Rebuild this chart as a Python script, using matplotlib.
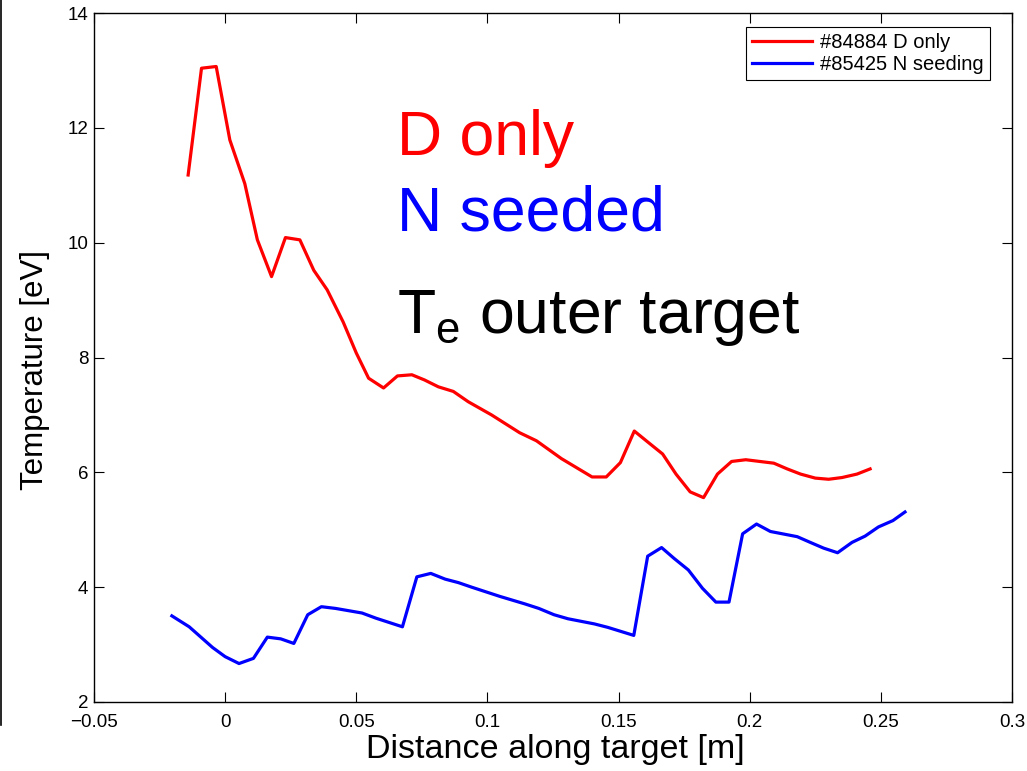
import matplotlib
matplotlib.use("Agg")
import matplotlib.pyplot as plt
from matplotlib.lines import Line2D

plt.rcParams['font.family'] = ['Liberation Sans', 'DejaVu Sans']
plt.rcParams['mathtext.fontset'] = 'custom'
plt.rcParams['mathtext.rm'] = 'Liberation Sans'

# Shot #84884, D only
x_d = [-0.0141, -0.0090, -0.0034, 0.0018, 0.0075, 0.0123, 0.0177, 0.0230, 0.0285,
       0.0338, 0.0389, 0.0450, 0.0500, 0.0547, 0.0604, 0.0657, 0.0712, 0.0760, 0.0813,
       0.0870, 0.0927, 0.1016, 0.1123, 0.1187, 0.1282, 0.1399, 0.1453, 0.1507, 0.1560,
       0.1611, 0.1668, 0.1719, 0.1773, 0.1824, 0.1877, 0.1931, 0.1985, 0.2092, 0.2143,
       0.2194, 0.2250, 0.2301, 0.2352, 0.2409, 0.2459]
te_d = [11.18, 13.04, 13.07, 11.79, 11.03, 10.05, 9.41, 10.09, 10.05,
        9.52, 9.18, 8.62, 8.08, 7.64, 7.47, 7.68, 7.70, 7.61, 7.49,
        7.41, 7.23, 7.00, 6.69, 6.55, 6.24, 5.92, 5.92, 6.17, 6.72,
        6.53, 6.32, 5.97, 5.66, 5.56, 5.97, 6.19, 6.22, 6.16, 6.06,
        5.97, 5.90, 5.88, 5.91, 5.97, 6.06]

# Shot #85425, N seeding
x_n = [-0.0203, -0.0137, -0.0048, 0.0000, 0.0053, 0.0108, 0.0161, 0.0212, 0.0262,
       0.0315, 0.0367, 0.0421, 0.0522, 0.0575, 0.0676, 0.0731, 0.0784, 0.0839, 0.0889,
       0.0940, 0.1047, 0.1142, 0.1196, 0.1254, 0.1307, 0.1408, 0.1459, 0.1558, 0.1611,
       0.1664, 0.1712, 0.1766, 0.1820, 0.1871, 0.1921, 0.1973, 0.2026, 0.2079, 0.2181,
       0.2231, 0.2282, 0.2335, 0.2390, 0.2440, 0.2491, 0.2546, 0.2592]
te_n = [3.50, 3.31, 2.95, 2.79, 2.67, 2.76, 3.13, 3.10, 3.02,
        3.52, 3.66, 3.63, 3.55, 3.46, 3.31, 4.18, 4.24, 4.14, 4.08,
        4.00, 3.84, 3.71, 3.63, 3.52, 3.45, 3.36, 3.30, 3.16, 4.54,
        4.69, 4.50, 4.30, 3.98, 3.74, 3.74, 4.93, 5.10, 4.97, 4.88,
        4.78, 4.68, 4.60, 4.78, 4.89, 5.05, 5.16, 5.31]

x_ticks = [-0.05, 0, 0.05, 0.1, 0.15, 0.2, 0.25, 0.3]
x_tick_labels = ['\u22120.05', '0', '0.05', '0.1', '0.15', '0.2', '0.25', '0.3']
y_ticks = [2, 4, 6, 8, 10, 12, 14]

fig = plt.figure(figsize=(10.27, 7.71), dpi=100)
ax = fig.add_axes([0.0915, 0.0895, 0.8939, 0.8935])

ax.plot(x_d, te_d, color='#ff0000', lw=2.3, label='#84884 D only')
ax.plot(x_n, te_n, color='#0000ff', lw=2.3, label='#85425 N seeding')

ax.set_xlim(-0.05, 0.3)
ax.set_ylim(2, 14)
ax.set_xticks(x_ticks)
ax.set_xticklabels(x_tick_labels)
ax.set_yticks(y_ticks)
ax.tick_params(direction='in', top=True, right=True, length=7, width=0.8,
               labelsize=13.5)
ax.tick_params(axis='x', pad=9)
ax.tick_params(axis='y', pad=4)
for s in ax.spines.values():
    s.set_linewidth(1.0)

ax.set_xlabel('Distance along target [m]', fontsize=24.5)
ax.set_ylabel('Temperature [eV]', fontsize=22.5)
ax.xaxis.set_label_coords(0.502, -0.047)
ax.xaxis.label.set_va('top')
ax.yaxis.set_label_coords(-0.064, 0.482)
ax.yaxis.label.set_va('center')

ax.text(0.0654, 11.53, 'D only', color='#ff0000', fontsize=45, va='baseline')
ax.text(0.0654, 10.22, 'N seeded', color='#0000ff', fontsize=45, va='baseline')
ax.text(0.0654, 8.43, r'T$_\mathregular{e}$ outer target', color='black',
        fontsize=45, va='baseline')

leg = ax.legend(loc='upper right', fontsize=14.5, frameon=True, fancybox=False,
                edgecolor='black', framealpha=1, handlelength=3.0,
                borderpad=0.3, labelspacing=0.15, handletextpad=0.4,
                borderaxespad=0, bbox_to_anchor=(0.976, 0.98))
leg.get_frame().set_linewidth(0.8)

# edge of the neighbouring panel
fig.add_artist(Line2D([0.001, 0.001], [1.0, 0.06], color='black', lw=1.2,
                      transform=fig.transFigure))

fig.savefig('out.png', dpi=100)
